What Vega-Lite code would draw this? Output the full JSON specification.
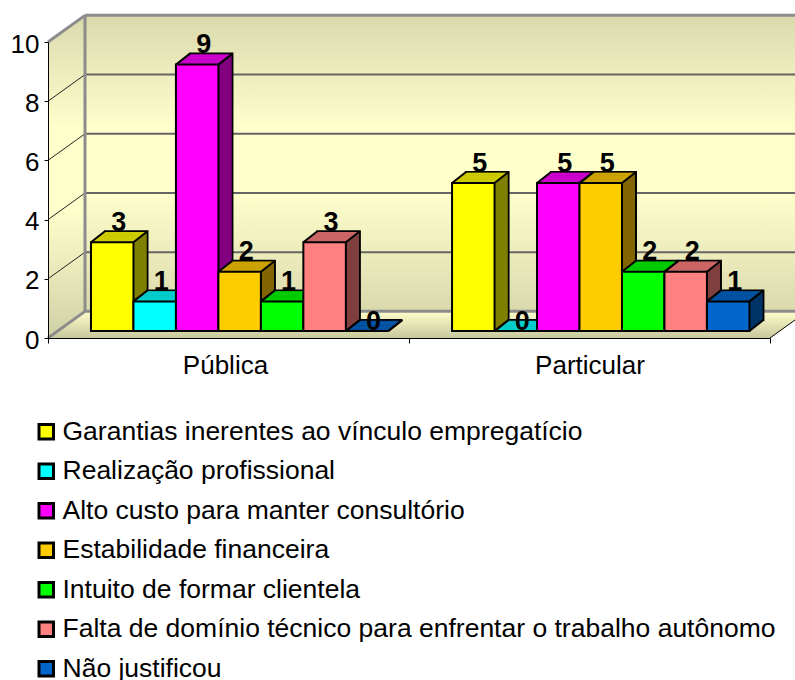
{"$schema":"https://vega.github.io/schema/vega-lite/v6.json","width":795,"height":680,"autosize":"none","padding":0,"background":"white",
"config":{"font":"Liberation Sans","view":{"stroke":null}},
"datasets":{
"respostas":[
{"grupo":"Pública","chave":"A1","motivo":"Garantias inerentes ao vínculo empregatício","valor":3},
{"grupo":"Pública","chave":"A2","motivo":"Realização profissional","valor":1},
{"grupo":"Pública","chave":"A3","motivo":"Alto custo para manter consultório","valor":9},
{"grupo":"Pública","chave":"A4","motivo":"Estabilidade financeira","valor":2},
{"grupo":"Pública","chave":"A5","motivo":"Intuito de formar clientela","valor":1},
{"grupo":"Pública","chave":"A6","motivo":"Falta de domínio técnico para enfrentar o trabalho autônomo","valor":3},
{"grupo":"Pública","chave":"A7","motivo":"Não justificou","valor":0},
{"grupo":"Particular","chave":"B1","motivo":"Garantias inerentes ao vínculo empregatício","valor":5},
{"grupo":"Particular","chave":"B2","motivo":"Realização profissional","valor":0},
{"grupo":"Particular","chave":"B3","motivo":"Alto custo para manter consultório","valor":5},
{"grupo":"Particular","chave":"B4","motivo":"Estabilidade financeira","valor":5},
{"grupo":"Particular","chave":"B5","motivo":"Intuito de formar clientela","valor":2},
{"grupo":"Particular","chave":"B6","motivo":"Falta de domínio técnico para enfrentar o trabalho autônomo","valor":2},
{"grupo":"Particular","chave":"B7","motivo":"Não justificou","valor":1}],
"grade":[{"v":2},{"v":4},{"v":6},{"v":8}],
"esquerda":[{"u":0,"base":0,"topo":10},{"u":0.1025,"base":0.9,"topo":10.9}],
"piso":[{"u":0,"base":0,"topo":0},{"u":0.1025,"base":0,"topo":0.9},{"u":2,"base":0,"topo":0.9},{"u":2.1025,"base":0.9,"topo":0.9}]},
"resolve":{"scale":{"x":"independent","y":"independent"}},
"layer":[
{"data":{"name":"respostas"},"mark":{"type":"square","size":0},
"encoding":{"y":{"field":"valor","type":"quantitative","scale":{"domain":[0,10],"range":[338,42],"zero":false,"nice":false},"axis":{"orient":"left","offset":-48,"values":[0,2,4,6,8,10],"title":null,"grid":false,"labelFontSize":26,"labelColor":"#000","labelPadding":5,"labelOffset":2,"tickSize":4,"tickColor":"#000","domainColor":"#000","zindex":1}},
"fill":{"field":"motivo","type":"nominal","scale":{"domain":["Garantias inerentes ao vínculo empregatício","Realização profissional","Alto custo para manter consultório","Estabilidade financeira","Intuito de formar clientela","Falta de domínio técnico para enfrentar o trabalho autônomo","Não justificou"],"range":["#FFFF00","#00FFFF","#FF00FF","#FFCC00","#00FF00","#FF8080","#0066CC"]},"legend":{"orient":"none","legendX":33,"legendY":418.5,"title":null,"symbolType":"square","symbolSize":210,"symbolStrokeColor":"#000","symbolStrokeWidth":3,"symbolOpacity":1,"labelFontSize":26.5,"labelColor":"#000","labelLimit":800,"rowPadding":12.5,"labelOffset":3,"columns":1}}}},
{"layer":[
{"data":{"name":"esquerda"},"mark":{"type":"area","orient":"vertical","fill":{"gradient":"linear","x1":0,"y1":0,"x2":0,"y2":1,"stops":[{"offset":0,"color":"#D9D9AD"},{"offset":0.35,"color":"#FFFFCC"},{"offset":0.6,"color":"#FFFFCC"},{"offset":1,"color":"#D0D0A6"}]}},
"encoding":{"x":{"field":"u","type":"quantitative","axis":null,"scale":{"domain":[0,2],"range":[48,770],"zero":false,"nice":false}},"y":{"field":"topo","type":"quantitative","axis":null,"scale":{"domain":[0,10],"range":[338,42],"zero":false,"nice":false}},"y2":{"field":"base"}}},
{"data":{"values":[{"a":1}]},"mark":{"type":"rect","fill":{"gradient":"linear","x1":0,"y1":0,"x2":0,"y2":1,"stops":[{"offset":0,"color":"#D9D9AD"},{"offset":0.38,"color":"#FFFFCC"},{"offset":0.6,"color":"#FFFFCC"},{"offset":1,"color":"#D9D9AD"}]}},
"encoding":{"x":{"datum":0.1025,"type":"quantitative","axis":null,"scale":{"domain":[0,2],"range":[48,770],"zero":false,"nice":false}},"x2":{"datum":2.1},"y":{"datum":0.9,"type":"quantitative","axis":null,"scale":{"domain":[0,10],"range":[338,42],"zero":false,"nice":false}},"y2":{"datum":10.9}}},
{"data":{"name":"piso"},"mark":{"type":"area","orient":"vertical","fill":{"gradient":"linear","x1":0,"y1":0,"x2":0,"y2":1,"stops":[{"offset":0,"color":"#FFFFCC"},{"offset":1,"color":"#C8C89E"}]}},
"encoding":{"x":{"field":"u","type":"quantitative","axis":null,"scale":{"domain":[0,2],"range":[48,770],"zero":false,"nice":false}},"y":{"field":"topo","type":"quantitative","axis":null,"scale":{"domain":[0,10],"range":[338,42],"zero":false,"nice":false}},"y2":{"field":"base"}}},
{"data":{"name":"grade"},"mark":{"type":"rule","color":"#666","strokeWidth":2,"yOffset":-26.6,"y2Offset":-26.6},
"encoding":{"x":{"datum":0.1025,"type":"quantitative","axis":null,"scale":{"domain":[0,2],"range":[48,770],"zero":false,"nice":false}},"x2":{"datum":2.1},"y":{"field":"v","type":"quantitative","axis":null,"scale":{"domain":[0,10],"range":[338,42],"zero":false,"nice":false}},"y2":{"field":"v"}}},
{"data":{"name":"grade"},"mark":{"type":"rule","color":"#222","strokeWidth":1,"y2Offset":-26.6},
"encoding":{"x":{"datum":0,"type":"quantitative","axis":null,"scale":{"domain":[0,2],"range":[48,770],"zero":false,"nice":false}},"x2":{"datum":0.1025},"y":{"field":"v","type":"quantitative","axis":null,"scale":{"domain":[0,10],"range":[338,42],"zero":false,"nice":false}},"y2":{"field":"v"}}},
{"data":{"values":[{"a":1}]},"mark":{"type":"rule","color":"#8C8C8C","strokeWidth":3},
"encoding":{"x":{"datum":0.1025,"type":"quantitative","axis":null,"scale":{"domain":[0,2],"range":[48,770],"zero":false,"nice":false}},"x2":{"datum":2.1},"y":{"datum":10.9,"type":"quantitative","axis":null,"scale":{"domain":[0,10],"range":[338,42],"zero":false,"nice":false}},"y2":{"datum":10.9}}},
{"data":{"values":[{"a":1}]},"mark":{"type":"rule","color":"#8C8C8C","strokeWidth":3},
"encoding":{"x":{"datum":0.1025,"type":"quantitative","axis":null,"scale":{"domain":[0,2],"range":[48,770],"zero":false,"nice":false}},"x2":{"datum":2.1},"y":{"datum":0.9,"type":"quantitative","axis":null,"scale":{"domain":[0,10],"range":[338,42],"zero":false,"nice":false}},"y2":{"datum":0.9}}},
{"data":{"values":[{"a":1}]},"mark":{"type":"rule","color":"#8C8C8C","strokeWidth":3},
"encoding":{"x":{"datum":0.1025,"type":"quantitative","axis":null,"scale":{"domain":[0,2],"range":[48,770],"zero":false,"nice":false}},"y":{"datum":0.9,"type":"quantitative","axis":null,"scale":{"domain":[0,10],"range":[338,42],"zero":false,"nice":false}},"y2":{"datum":10.9}}},
{"data":{"values":[{"a":1}]},"mark":{"type":"rule","color":"#8C8C8C","strokeWidth":3},
"encoding":{"x":{"datum":0,"type":"quantitative","axis":null,"scale":{"domain":[0,2],"range":[48,770],"zero":false,"nice":false}},"x2":{"datum":0.1025},"y":{"datum":10,"type":"quantitative","axis":null,"scale":{"domain":[0,10],"range":[338,42],"zero":false,"nice":false}},"y2":{"datum":10.9}}},
{"data":{"values":[{"a":1}]},"mark":{"type":"rule","color":"#8C8C8C","strokeWidth":3},
"encoding":{"x":{"datum":0,"type":"quantitative","axis":null,"scale":{"domain":[0,2],"range":[48,770],"zero":false,"nice":false}},"x2":{"datum":0.1025},"y":{"datum":0,"type":"quantitative","axis":null,"scale":{"domain":[0,10],"range":[338,42],"zero":false,"nice":false}},"y2":{"datum":0.9}}},
{"data":{"values":[{"a":1}]},"mark":{"type":"rule","color":"#000","strokeWidth":1},
"encoding":{"x":{"datum":2,"type":"quantitative","axis":null,"scale":{"domain":[0,2],"range":[48,770],"zero":false,"nice":false}},"x2":{"datum":2.1025},"y":{"datum":0,"type":"quantitative","axis":null,"scale":{"domain":[0,10],"range":[338,42],"zero":false,"nice":false}},"y2":{"datum":0.9}}}
]},
{"data":{"values":[{"grupo":"Pública"},{"grupo":"Particular"}]},"mark":{"type":"rule","opacity":0},
"encoding":{"x":{"field":"grupo","type":"nominal","sort":null,"scale":{"domain":["Pública","Particular"],"range":[48,770],"padding":0},"axis":{"orient":"bottom","offset":-342,"title":null,"tickBand":"extent","labelAngle":0,"labelFontSize":26,"labelColor":"#000","labelPadding":9,"tickSize":5,"tickColor":"#000","domainColor":"#000","zindex":1,"labelOffset":{"expr":"datum.value=='Pública'?-3.5:0"}}}}},
{"data":{"name":"respostas"},
"encoding":{
"x":{"field":"chave","type":"nominal","axis":null,"scale":{"domain":["A1","_1","A2","_2","A3","_3","A4","_4","A5","_5","A6","_6","A7","_7","_8","_9","_10","B1","_11","B2","_12","B3","_13","B4","_14","B5","_15","B6","_16","B7"],"range":[101.6,738.8],"padding":0}},
"y":{"field":"valor","type":"quantitative","axis":null,"scale":{"domain":[0,10],"range":[338,42],"zero":false,"nice":false}},
"color":{"field":"motivo","type":"nominal","legend":null,"scale":{"domain":["Não justificou","Falta de domínio técnico para enfrentar o trabalho autônomo","Intuito de formar clientela","Estabilidade financeira","Alto custo para manter consultório","Realização profissional","Garantias inerentes ao vínculo empregatício"],"range":["#003366","#804040","#008000","#806600","#800080","#008080","#808000"]}},
"stroke":{"field":"motivo","type":"nominal","legend":null,"scale":{"domain":["Realização profissional","Garantias inerentes ao vínculo empregatício","Alto custo para manter consultório","Estabilidade financeira","Intuito de formar clientela","Falta de domínio técnico para enfrentar o trabalho autônomo","Não justificou"],"range":["#00CCCC","#CCCC00","#CC00CC","#CCA300","#00CC00","#CC6666","#0052A3"]}}},
"layer":[
{"mark":{"type":"bar","width":42.5,"xOffset":14,"yOffset":-18,"y2Offset":-18,"strokeWidth":2},"encoding":{"stroke":{"value":"#000"}}},
{"mark":{"type":"bar","width":42.5,"xOffset":13,"yOffset":-17.2,"y2Offset":-17.2},"encoding":{"stroke":{"value":null}}},
{"mark":{"type":"bar","width":42.5,"xOffset":12,"yOffset":-16.4,"y2Offset":-16.4},"encoding":{"stroke":{"value":null}}},
{"mark":{"type":"bar","width":42.5,"xOffset":12,"yOffset":-16.4,"y2Offset":-16.4,"strokeWidth":1.5},"encoding":{"y2":{"field":"valor"}}},
{"mark":{"type":"bar","width":42.5,"xOffset":11,"yOffset":-15.6,"y2Offset":-15.6},"encoding":{"stroke":{"value":null}}},
{"mark":{"type":"bar","width":42.5,"xOffset":11,"yOffset":-15.6,"y2Offset":-15.6,"strokeWidth":1.5},"encoding":{"y2":{"field":"valor"}}},
{"mark":{"type":"bar","width":42.5,"xOffset":10,"yOffset":-14.9,"y2Offset":-14.9},"encoding":{"stroke":{"value":null}}},
{"mark":{"type":"bar","width":42.5,"xOffset":10,"yOffset":-14.9,"y2Offset":-14.9,"strokeWidth":1.5},"encoding":{"y2":{"field":"valor"}}},
{"mark":{"type":"bar","width":42.5,"xOffset":9,"yOffset":-14.1,"y2Offset":-14.1},"encoding":{"stroke":{"value":null}}},
{"mark":{"type":"bar","width":42.5,"xOffset":9,"yOffset":-14.1,"y2Offset":-14.1,"strokeWidth":1.5},"encoding":{"y2":{"field":"valor"}}},
{"mark":{"type":"bar","width":42.5,"xOffset":8,"yOffset":-13.3,"y2Offset":-13.3},"encoding":{"stroke":{"value":null}}},
{"mark":{"type":"bar","width":42.5,"xOffset":8,"yOffset":-13.3,"y2Offset":-13.3,"strokeWidth":1.5},"encoding":{"y2":{"field":"valor"}}},
{"mark":{"type":"bar","width":42.5,"xOffset":7,"yOffset":-12.5,"y2Offset":-12.5},"encoding":{"stroke":{"value":null}}},
{"mark":{"type":"bar","width":42.5,"xOffset":7,"yOffset":-12.5,"y2Offset":-12.5,"strokeWidth":1.5},"encoding":{"y2":{"field":"valor"}}},
{"mark":{"type":"bar","width":42.5,"xOffset":6,"yOffset":-11.7,"y2Offset":-11.7},"encoding":{"stroke":{"value":null}}},
{"mark":{"type":"bar","width":42.5,"xOffset":6,"yOffset":-11.7,"y2Offset":-11.7,"strokeWidth":1.5},"encoding":{"y2":{"field":"valor"}}},
{"mark":{"type":"bar","width":42.5,"xOffset":5,"yOffset":-10.9,"y2Offset":-10.9},"encoding":{"stroke":{"value":null}}},
{"mark":{"type":"bar","width":42.5,"xOffset":5,"yOffset":-10.9,"y2Offset":-10.9,"strokeWidth":1.5},"encoding":{"y2":{"field":"valor"}}},
{"mark":{"type":"bar","width":42.5,"xOffset":4,"yOffset":-10.1,"y2Offset":-10.1},"encoding":{"stroke":{"value":null}}},
{"mark":{"type":"bar","width":42.5,"xOffset":4,"yOffset":-10.1,"y2Offset":-10.1,"strokeWidth":1.5},"encoding":{"y2":{"field":"valor"}}},
{"mark":{"type":"bar","width":42.5,"xOffset":3,"yOffset":-9.4,"y2Offset":-9.4},"encoding":{"stroke":{"value":null}}},
{"mark":{"type":"bar","width":42.5,"xOffset":3,"yOffset":-9.4,"y2Offset":-9.4,"strokeWidth":1.5},"encoding":{"y2":{"field":"valor"}}},
{"mark":{"type":"bar","width":42.5,"xOffset":2,"yOffset":-8.6,"y2Offset":-8.6},"encoding":{"stroke":{"value":null}}},
{"mark":{"type":"bar","width":42.5,"xOffset":2,"yOffset":-8.6,"y2Offset":-8.6,"strokeWidth":1.5},"encoding":{"y2":{"field":"valor"}}},
{"mark":{"type":"bar","width":42.5,"xOffset":1,"yOffset":-7.8,"y2Offset":-7.8},"encoding":{"stroke":{"value":null}}},
{"mark":{"type":"bar","width":42.5,"xOffset":1,"yOffset":-7.8,"y2Offset":-7.8,"strokeWidth":1.5},"encoding":{"y2":{"field":"valor"}}},
{"mark":{"type":"rule","xOffset":-21.25,"x2Offset":-7.25,"yOffset":-7,"y2Offset":-18,"strokeWidth":2},"encoding":{"x2":{"field":"chave"},"y2":{"field":"valor"},"color":{"value":"#000"},"stroke":{"value":"#000"}}},
{"mark":{"type":"rule","xOffset":21.25,"x2Offset":35.25,"yOffset":-7,"y2Offset":-18,"strokeWidth":2},"encoding":{"x2":{"field":"chave"},"y2":{"field":"valor"},"color":{"value":"#000"},"stroke":{"value":"#000"}}},
{"mark":{"type":"rule","xOffset":21.25,"x2Offset":35.25,"yOffset":-7,"y2Offset":-18,"strokeWidth":2},"encoding":{"x2":{"field":"chave"},"y":{"datum":0,"type":"quantitative","axis":null,"scale":{"domain":[0,10],"range":[338,42],"zero":false,"nice":false}},"y2":{"datum":0},"color":{"value":"#000"},"stroke":{"value":"#000"}}},
{"mark":{"type":"bar","width":42.5,"yOffset":-7,"y2Offset":-7,"strokeWidth":2},"encoding":{"stroke":{"value":"#000"},"fill":{"field":"motivo","type":"nominal","legend":null,"scale":{"domain":["Garantias inerentes ao vínculo empregatício","Realização profissional","Alto custo para manter consultório","Estabilidade financeira","Intuito de formar clientela","Falta de domínio técnico para enfrentar o trabalho autônomo","Não justificou"],"range":["#FFFF00","#00FFFF","#FF00FF","#FFCC00","#00FF00","#FF8080","#0066CC"]}}}},
{"transform":[{"filter":"datum.valor>0"}],"mark":{"type":"text","xOffset":6.5,"yOffset":-18.5,"fontSize":27,"fontWeight":"bold","baseline":"alphabetic","align":"center"},"encoding":{"text":{"field":"valor","type":"quantitative"},"color":{"value":"#000"},"stroke":{"value":null}}},
{"transform":[{"filter":"datum.valor==0"}],"mark":{"type":"text","xOffset":6.5,"yOffset":-8,"fontSize":27,"fontWeight":"bold","baseline":"alphabetic","align":"center"},"encoding":{"text":{"field":"valor","type":"quantitative"},"color":{"value":"#000"},"stroke":{"value":null}}}
]}
]}
